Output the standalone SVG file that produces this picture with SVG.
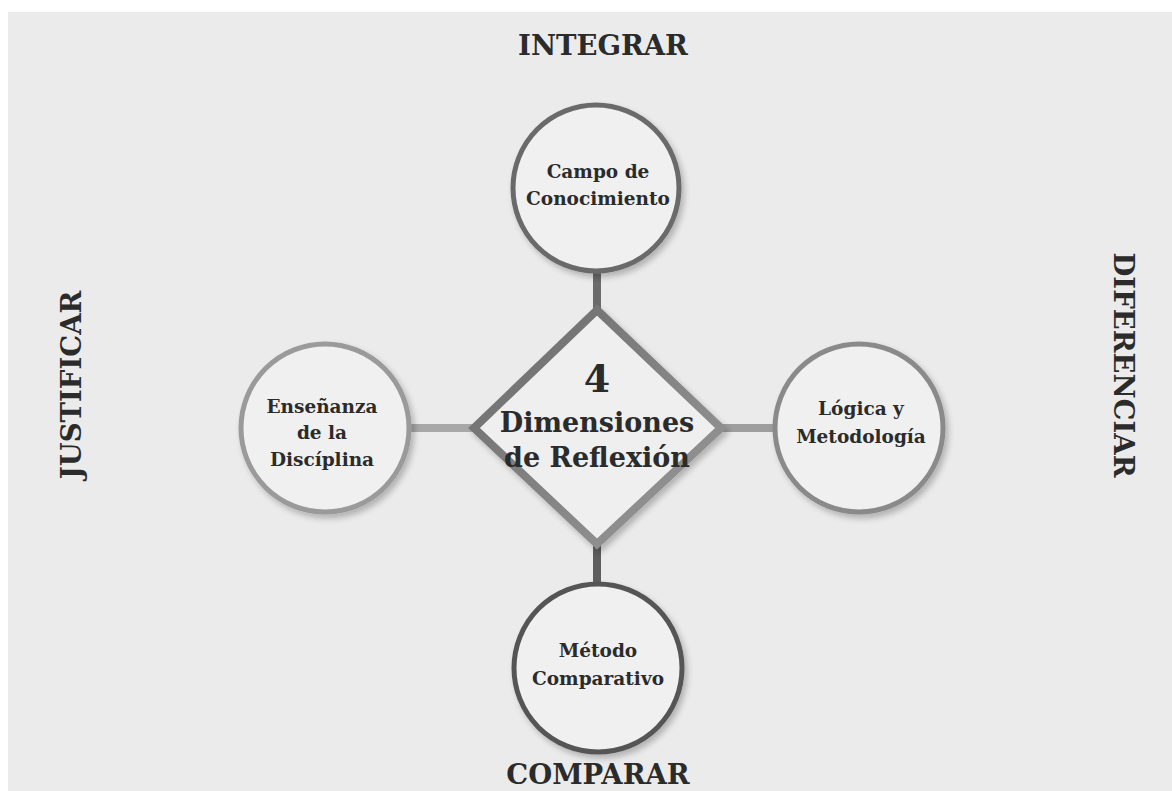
<svg xmlns="http://www.w3.org/2000/svg" width="1172" height="791" viewBox="0 0 1172 791">
<defs>
<linearGradient id="dg" x1="0" y1="0" x2="1" y2="1">
<stop offset="0" stop-color="#6a6a6a"/><stop offset="1" stop-color="#9a9a9a"/>
</linearGradient>
<filter id="sh" x="-20%" y="-20%" width="140%" height="140%">
<feGaussianBlur in="SourceAlpha" stdDeviation="3"/><feOffset dx="3" dy="4"/>
<feComponentTransfer><feFuncA type="linear" slope="0.25"/></feComponentTransfer>
<feMerge><feMergeNode/><feMergeNode in="SourceGraphic"/></feMerge>
</filter>
</defs>
<style>
.t{font-family:"DejaVu Serif","Liberation Serif",serif;font-weight:bold;fill:#2b2b2b;text-anchor:middle}
.n{font-size:18.5px}
.h{font-size:27.5px}
.c{fill:#f0f0f0;stroke-width:5}
</style>
<rect width="1172" height="791" fill="#ffffff"/>
<rect x="8" y="12" width="1164" height="779" fill="#ebebeb"/>
<g id="connectors" stroke-width="8">
<line x1="597" y1="268" x2="597" y2="314" stroke="#6b6b6b"/>
<line x1="597" y1="540" x2="597" y2="590" stroke="#5e5e5e"/>
<line x1="408" y1="428" x2="478" y2="428" stroke="#a8a8a8"/>
<line x1="718" y1="428" x2="776" y2="428" stroke="#9e9e9e"/>
</g>
<g id="center">
<polygon points="597,310 721,428 597,544 474,428" fill="#efefef" stroke="url(#dg)" stroke-width="8" stroke-linejoin="miter" filter="url(#sh)"/>
<text class="t" x="597" y="392" font-size="38">4</text>
<text class="t" x="597" y="432" font-size="27">Dimensiones</text>
<text class="t" x="597" y="467" font-size="27">de Reflexión</text>
</g>
<g id="top">
<circle class="c" cx="596" cy="188" r="83" stroke="#6a6a6a" filter="url(#sh)"/>
<text class="t n" x="598" y="178">Campo de</text>
<text class="t n" x="598" y="205">Conocimiento</text>
</g>
<g id="left">
<circle class="c" cx="325" cy="428" r="84" stroke="#9a9a9a" filter="url(#sh)"/>
<text class="t n" x="322" y="413">Enseñanza</text>
<text class="t n" x="322" y="439">de la</text>
<text class="t n" x="322" y="466">Discíplina</text>
</g>
<g id="right">
<circle class="c" cx="859" cy="428" r="84" stroke="#8a8a8a" filter="url(#sh)"/>
<text class="t n" x="861" y="415">Lógica y</text>
<text class="t n" x="861" y="443">Metodología</text>
</g>
<g id="bottom">
<circle class="c" cx="598" cy="668" r="84" stroke="#555555" filter="url(#sh)"/>
<text class="t n" x="598" y="657">Método</text>
<text class="t n" x="598" y="685">Comparativo</text>
</g>
<g id="labels">
<text class="t h" x="603" y="55">INTEGRAR</text>
<text class="t h" x="598" y="784">COMPARAR</text>
<text class="t h" transform="translate(81,385) rotate(-90)">JUSTIFICAR</text>
<text class="t h" transform="translate(1114,365) rotate(90)">DIFERENCIAR</text>
</g>
</svg>
